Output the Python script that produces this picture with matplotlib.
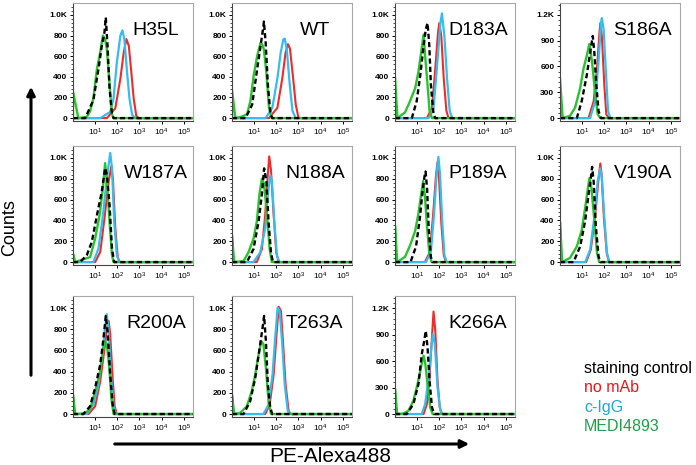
import numpy as np
import matplotlib
matplotlib.use('Agg')
import matplotlib.pyplot as plt
from matplotlib.patches import FancyArrowPatch
from matplotlib.ticker import LogLocator, AutoMinorLocator, NullFormatter

plt.rcParams['font.family'] = ['Liberation Sans', 'DejaVu Sans']

# panel names (row by row) and the top y tick of each panel
mutants = ['H35L', 'WT', 'D183A', 'S186A',
           'W187A', 'N188A', 'P189A', 'V190A',
           'R200A', 'T263A', 'K266A']
top_tick = [1000, 1000, 1000, 1200, 1000, 1000, 1000, 1000, 1000, 1000, 1200]

# curves: x in log10(intensity), y in counts
red_x = [
    [1.53, 1.91, 2.14, 2.29, 2.41, 2.52, 2.62, 2.74, 2.86, 2.97],
    [1.67, 2.05, 2.27, 2.42, 2.53, 2.62, 2.76, 2.88, 3.0, 3.11],
    [1.44, 1.67, 1.82, 1.94, 2.0, 2.09, 2.2, 2.32, 2.42],
    [1.29, 1.52, 1.67, 1.77, 1.82, 1.89, 2.0, 2.09, 2.2],
    [1.0, 1.23, 1.42, 1.61, 1.73, 1.80, 1.91, 2.02, 2.11],
    [1.12, 1.35, 1.5, 1.61, 1.68, 1.76, 1.88, 2.0, 2.11],
    [1.35, 1.58, 1.73, 1.85, 1.92, 1.99, 2.09, 2.2, 2.3],
    [1.18, 1.39, 1.58, 1.73, 1.82, 1.88, 1.98, 2.11, 2.21],
    [0.70, 1.0, 1.23, 1.41, 1.53, 1.61, 1.68, 1.79, 1.88, 1.98],
    [1.50, 1.70, 1.88, 2.0, 2.11, 2.21, 2.30, 2.42, 2.56, 2.67],
    [1.29, 1.44, 1.55, 1.64, 1.74, 1.82, 1.92, 2.02, 2.12],
]
red_y = [
    [0, 95, 384, 638, 765, 700, 476, 190, 19, 0],
    [0, 100, 385, 637, 716, 670, 385, 130, 5, 0],
    [0, 100, 480, 826, 920, 795, 385, 70, 0],
    [0, 197, 575, 955, 1105, 955, 386, 45, 0],
    [0, 97, 420, 775, 920, 806, 323, 48, 0],
    [0, 125, 455, 818, 1016, 884, 455, 92, 0],
    [0, 100, 480, 830, 960, 800, 380, 70, 0],
    [0, 119, 431, 775, 947, 840, 431, 88, 0],
    [0, 73, 310, 595, 816, 880, 753, 342, 73, 0],
    [0, 89, 373, 722, 1013, 975, 690, 278, 25, 0],
    [0, 113, 377, 755, 1162, 943, 377, 75, 0],
]

cyan_x = [
    [1.23, 1.68, 1.83, 1.98, 2.14, 2.23, 2.32, 2.44, 2.55, 2.67, 2.82],
    [1.52, 1.82, 2.05, 2.20, 2.32, 2.38, 2.47, 2.61, 2.73, 2.88],
    [1.52, 1.74, 1.89, 2.05, 2.12, 2.23, 2.35, 2.47, 2.58],
    [1.36, 1.59, 1.74, 1.85, 1.89, 1.97, 2.08, 2.17, 2.27],
    [0.92, 1.15, 1.35, 1.53, 1.68, 1.76, 1.86, 1.98, 2.09],
    [0.97, 1.27, 1.5, 1.62, 1.73, 1.80, 1.91, 2.03, 2.14],
    [1.4, 1.62, 1.77, 1.88, 1.96, 2.03, 2.13, 2.23, 2.33],
    [1.14, 1.36, 1.55, 1.70, 1.82, 1.89, 2.0, 2.12, 2.23],
    [0.62, 0.92, 1.15, 1.33, 1.45, 1.52, 1.61, 1.71, 1.83, 1.94],
    [1.42, 1.65, 1.83, 1.95, 2.06, 2.15, 2.26, 2.38, 2.52, 2.64],
    [1.21, 1.36, 1.52, 1.64, 1.71, 1.80, 1.92, 2.05, 2.15],
]
cyan_y = [
    [0, 60, 190, 540, 800, 850, 762, 445, 190, 32, 0],
    [0, 100, 385, 637, 763, 770, 670, 320, 70, 0],
    [0, 100, 480, 920, 1015, 795, 385, 70, 0],
    [0, 197, 651, 1105, 1162, 1030, 500, 83, 0],
    [0, 130, 450, 806, 1048, 903, 387, 65, 0],
    [0, 92, 323, 653, 835, 785, 390, 59, 0],
    [0, 100, 480, 850, 1010, 850, 400, 70, 0],
    [0, 119, 431, 775, 900, 806, 431, 88, 0],
    [0, 89, 278, 563, 816, 943, 785, 373, 73, 0],
    [0, 89, 373, 722, 1006, 975, 690, 278, 25, 0],
    [0, 113, 415, 755, 906, 792, 302, 38, 0],
]

green_x = [
    [0, 0.24, 0.62, 0.77, 0.92, 1.08, 1.23, 1.35, 1.45, 1.53, 1.65, 1.76, 1.83],
    [0, 0.15, 0.45, 0.68, 0.83, 0.98, 1.14, 1.29, 1.36, 1.44, 1.55, 1.67, 1.79],
    [0, 0.11, 0.45, 0.68, 0.91, 1.06, 1.18, 1.29, 1.36, 1.47, 1.56, 1.67],
    [0, 0.12, 0.45, 0.68, 0.91, 1.06, 1.21, 1.32, 1.39, 1.48, 1.59, 1.70, 1.82],
    [0, 0.1, 0.77, 1.0, 1.2, 1.35, 1.45, 1.53, 1.65, 1.76, 1.83],
    [0, 0.1, 0.52, 0.74, 0.97, 1.12, 1.24, 1.35, 1.45, 1.58, 1.70, 1.80],
    [0, 0.1, 0.45, 0.68, 0.91, 1.06, 1.18, 1.27, 1.35, 1.45, 1.55, 1.65],
    [0, 0.1, 0.45, 0.76, 0.98, 1.14, 1.24, 1.33, 1.42, 1.55, 1.67, 1.77],
    [0, 0.1, 0.47, 0.77, 1.0, 1.2, 1.35, 1.45, 1.53, 1.64, 1.73, 1.83],
    [0, 0.1, 0.36, 0.67, 0.89, 1.05, 1.20, 1.32, 1.42, 1.53, 1.65, 1.76],
    [0, 0.1, 0.38, 0.61, 0.83, 1.02, 1.17, 1.29, 1.36, 1.47, 1.59, 1.70],
]
green_y = [
    [257, 0, 10, 67, 190, 476, 638, 800, 762, 667, 324, 38, 0],
    [275, 0, 15, 38, 165, 415, 605, 730, 715, 665, 445, 100, 0],
    [400, 0, 55, 165, 290, 450, 637, 810, 605, 320, 70, 0],
    [462, 0, 26, 121, 348, 575, 727, 860, 765, 575, 272, 45, 0],
    [80, 0, 48, 225, 450, 710, 950, 775, 387, 65, 0],
    [257, 0, 10, 92, 224, 390, 653, 802, 752, 455, 125, 0],
    [350, 0, 50, 160, 300, 470, 650, 780, 640, 330, 80, 0],
    [385, 0, 40, 150, 306, 525, 681, 806, 712, 400, 88, 0],
    [183, 0, 5, 41, 215, 373, 595, 690, 658, 437, 152, 0],
    [183, 0, 10, 73, 215, 373, 563, 690, 658, 437, 120, 0],
    [283, 0, 5, 38, 151, 340, 528, 660, 585, 340, 75, 0],
]

ctrl_x = [
    [0.55, 0.92, 1.15, 1.30, 1.42, 1.48, 1.56, 1.65, 1.76, 1.83],
    [0.61, 0.91, 1.14, 1.29, 1.41, 1.44, 1.52, 1.62, 1.74, 1.82],
    [0.76, 0.98, 1.14, 1.29, 1.39, 1.47, 1.55, 1.62, 1.74, 1.82],
    [0.76, 0.98, 1.21, 1.36, 1.48, 1.55, 1.64, 1.74, 1.85],
    [0.32, 0.62, 0.85, 1.08, 1.30, 1.45, 1.53, 1.65, 1.76, 1.86],
    [0.67, 0.97, 1.20, 1.35, 1.45, 1.55, 1.65, 1.76, 1.85],
    [0.7, 0.95, 1.12, 1.25, 1.33, 1.38, 1.45, 1.52, 1.62, 1.7],
    [0.61, 0.91, 1.14, 1.29, 1.41, 1.45, 1.52, 1.62, 1.74, 1.82],
    [0.47, 0.77, 1.0, 1.23, 1.38, 1.48, 1.56, 1.68, 1.79, 1.88],
    [0.52, 0.82, 1.05, 1.23, 1.38, 1.45, 1.53, 1.62, 1.73, 1.82],
    [0.53, 0.83, 1.06, 1.21, 1.32, 1.39, 1.47, 1.56, 1.67, 1.77],
]
ctrl_y = [
    [0, 174, 476, 700, 829, 975, 700, 289, 38, 0],
    [0, 130, 480, 700, 875, 935, 730, 320, 38, 0],
    [0, 165, 415, 700, 860, 920, 700, 320, 38, 0],
    [0, 197, 500, 765, 955, 765, 386, 83, 0],
    [0, 65, 194, 450, 677, 903, 840, 550, 130, 0],
    [0, 125, 390, 653, 900, 785, 390, 92, 0],
    [0, 150, 420, 690, 820, 870, 700, 330, 50, 0],
    [0, 150, 400, 650, 837, 915, 775, 337, 56, 0],
    [0, 73, 247, 468, 722, 927, 785, 373, 89, 0],
    [0, 120, 342, 595, 816, 927, 690, 278, 57, 0],
    [0, 113, 340, 679, 830, 943, 755, 377, 75, 0],
]

legend_labels = ['staining control', 'no mAb', 'c-IgG', 'MEDI4893']
legend_colors = ['black', '#e8141c', '#1ea6df', '#1f9e4a']

RED = '#ee2b2b'
CYAN = '#36bdee'
GREEN = '#2ac22e'

W, H = 696, 465
fig = plt.figure(figsize=(W / 100, H / 100), dpi=100)

col_px = [(73, 193), (232, 352), (395, 515), (560, 680)]
row_px = [(3, 121), (146, 265), (296, 417)]
XMAX = 262144


def curve(ax, xs, ys, **kw):
    x = np.r_[0, xs, np.log10(XMAX)]
    y = np.r_[0, ys, 0]
    ax.plot(10 ** x, y, **kw)


for i, name in enumerate(mutants):
    r, c = divmod(i, 4)
    x0, x1 = col_px[c]
    y0, y1 = row_px[r]
    ax = fig.add_axes([x0 / W, 1 - y1 / H, (x1 - x0) / W, (y1 - y0) / H])

    curve(ax, red_x[i], red_y[i], color=RED, lw=1.5)
    curve(ax, cyan_x[i], cyan_y[i], color=CYAN, lw=1.6)
    curve(ax, green_x[i], green_y[i], color=GREEN, lw=1.7)
    curve(ax, ctrl_x[i], ctrl_y[i], color='black', lw=1.7, dashes=(2.2, 1.3))

    ax.set_xscale('log')
    ax.set_xlim(1, XMAX)
    ax.set_xticks([10 ** k for k in range(1, 6)])
    ax.set_xticklabels([r'$\mathregular{10^{%d}}$' % k for k in range(1, 6)])
    ax.xaxis.set_minor_locator(LogLocator(base=10, subs=np.arange(2, 10)))
    ax.xaxis.set_minor_formatter(NullFormatter())

    top = top_tick[i]
    step = top // 5 if top == 1000 else top // 4
    yt = list(range(0, top + 1, step))
    ax.set_yticks(yt)
    ax.set_yticklabels([str(v) for v in yt[:-1]] + ['%.1fK' % (top / 1000)])
    ax.yaxis.set_minor_locator(AutoMinorLocator(5))
    ax.set_ylim(-0.028 * top, 1.115 * top)

    ax.tick_params(which='major', direction='out', length=2.5, width=0.7,
                   labelsize=6, pad=1.5)
    ax.tick_params(which='minor', direction='out', length=1.3, width=0.5)
    for lab in ax.get_yticklabels():
        lab.set_fontweight('bold')
    for side in ['top', 'right']:
        ax.spines[side].set_color('#a8a8a8')
    for side in ['left', 'bottom']:
        ax.spines[side].set_color('#444444')
    for sp in ax.spines.values():
        sp.set_linewidth(0.8)

    ax.text(0.69, 0.77, name, transform=ax.transAxes, ha='center', va='center',
            fontsize=14)

# axis arrows and titles
fig.add_artist(FancyArrowPatch((31 / W, 1 - 378 / H), (31 / W, 1 - 84 / H),
                               transform=fig.transFigure, arrowstyle='-|>',
                               mutation_scale=12, lw=2.2, color='black'))
fig.text(10 / W, 1 - 228 / H, 'Counts', rotation=90, ha='center', va='center',
         fontsize=13)
fig.add_artist(FancyArrowPatch((112 / W, 1 - 444 / H), (472 / W, 1 - 444 / H),
                               transform=fig.transFigure, arrowstyle='-|>',
                               mutation_scale=12, lw=2.2, color='black'))
fig.text(330 / W, 1 - 456 / H, 'PE-Alexa488', ha='center', va='center',
         fontsize=15)

# colour key
for k, (lab, col) in enumerate(zip(legend_labels, legend_colors)):
    fig.text(584 / W, 1 - (368 + 19.5 * k) / H, lab, color=col, ha='left',
             va='center', fontsize=11.5)

fig.savefig('out.png', dpi=100)
